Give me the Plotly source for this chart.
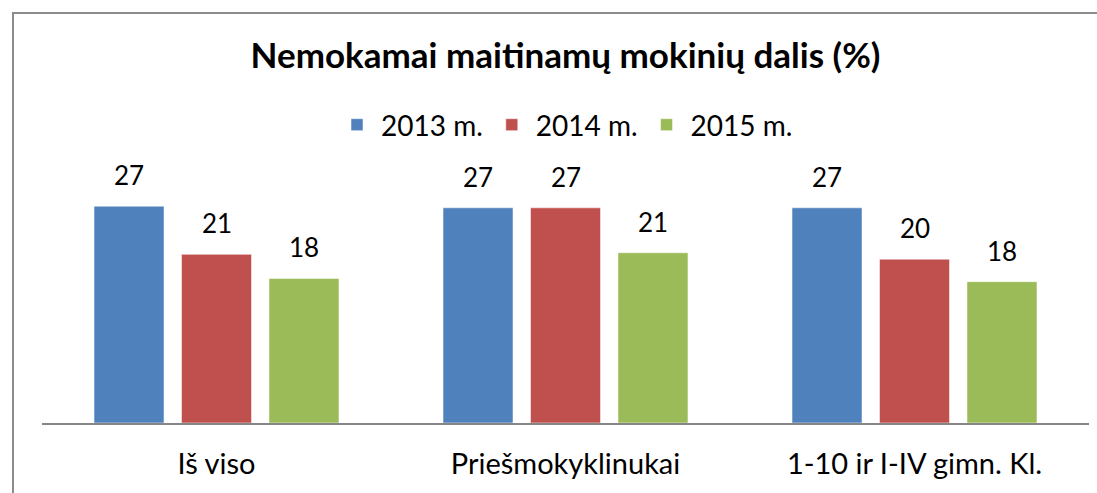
import plotly.graph_objects as go

categories = ["Iš viso", "Priešmokyklinukai", "1-10 ir I-IV gimn. Kl."]
series_names = ["2013 m.", "2014 m.", "2015 m."]
values_2013 = [27.0, 26.8, 26.8]
values_2014 = [21.0, 26.8, 20.4]
values_2015 = [18.0, 21.2, 17.6]
series_values = [values_2013, values_2014, values_2015]
colors = ["#4F81BD", "#C0504D", "#9BBB59"]

W, H = 1097, 493
ML, MR, MT, MB = 42, 8, 100, 70
FONT = "Lato"
PX_PER_UNIT = 8.03

fig = go.Figure()
for name, vals, col in zip(series_names, series_values, colors):
    fig.add_trace(go.Bar(
        x=categories, y=vals, name=name,
        marker=dict(color=col, line=dict(color="rgba(255,255,255,0.5)", width=1)),
    ))

plot_w = W - ML - MR
plot_h = H - MT - MB
ymax = plot_h / PX_PER_UNIT
cat_w = plot_w / len(categories)
bargap = 0.248
slot = cat_w * (1 - bargap) / len(series_names)

# value labels above bars
annotations = []
for i, vals in enumerate(series_values):
    off = (i - (len(series_names) - 1) / 2) * slot
    for c, v in zip(categories, vals):
        annotations.append(dict(
            x=c, y=v, xref="x", yref="y", text=f"{v:.0f}", showarrow=False,
            xshift=off, yshift=31, yanchor="middle",
            font=dict(family=FONT, size=26, color="#000000"),
        ))

def px_to_paper_x(px):
    return (px - ML) / plot_w

def px_to_paper_y(py):
    return (H - MB - py) / plot_h

# frame border: left and top edges (right/bottom run past the picture)
border = dict(color="#8C8C8C", width=2)
fig.add_shape(type="line", xref="paper", yref="paper",
              x0=px_to_paper_x(13), x1=px_to_paper_x(13),
              y0=px_to_paper_y(520), y1=px_to_paper_y(12), line=border)
fig.add_shape(type="line", xref="paper", yref="paper",
              x0=px_to_paper_x(12), x1=px_to_paper_x(1120),
              y0=px_to_paper_y(13), y1=px_to_paper_y(13), line=border)

fig.update_layout(
    width=W, height=H,
    margin=dict(l=ML, r=MR, t=MT, b=MB, pad=0, autoexpand=False),
    paper_bgcolor="white", plot_bgcolor="white",
    barmode="group", bargap=bargap, bargroupgap=0.2,
    title=dict(
        text="<b>Nemokamai maitinamų mokinių dalis (%)</b>",
        x=0.5, xref="paper", xanchor="center",
        y=1 - 56 / H, yref="container", yanchor="middle",
        font=dict(family=FONT, size=35, color="#000000"),
    ),
    legend=dict(
        orientation="h", x=0.5, xref="paper", xanchor="center",
        y=px_to_paper_y(125), yref="paper", yanchor="middle",
        font=dict(family=FONT, size=28, color="#000000"),
        itemwidth=38, traceorder="normal", bgcolor="rgba(0,0,0,0)",
    ),
    xaxis=dict(
        showline=True, linecolor="#868686", linewidth=2,
        showgrid=False, ticks="", zeroline=False,
        tickfont=dict(family=FONT, size=29, color="#000000"),
        ticklabelstandoff=14,
    ),
    yaxis=dict(visible=False, range=[0, ymax], showgrid=False, zeroline=False),
    annotations=annotations,
    showlegend=True,
)

fig.write_html("out.html", config={"displayModeBar": False},
               post_script="document.body.style.margin='0';")
